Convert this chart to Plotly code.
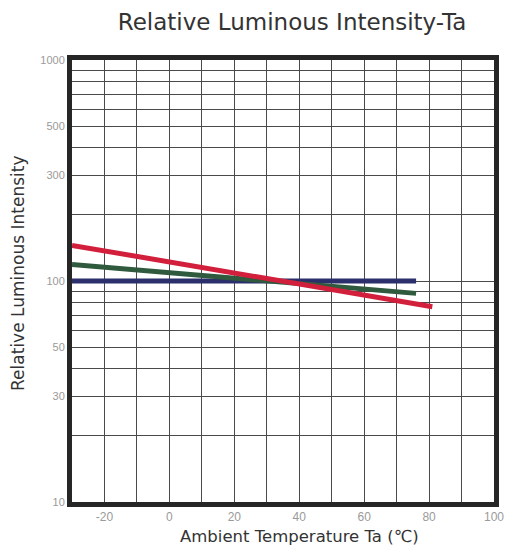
import plotly.graph_objects as go

# Data
temp_blue = [-30, 25, 76]
val_blue = [100, 100, 100]
temp_green = [-30, 25, 76]
val_green = [118.7, 102, 87.9]
temp_red = [-30, 25, 81]
val_red = [145, 106, 76.5]

y_tick_vals = [10, 30, 50, 100, 300, 500, 1000]
y_tick_text = ["10", "30", "50", "100", "300", "500", "1000"]
y_minor_vals = [20, 40, 60, 70, 80, 90, 200, 400, 600, 700, 800, 900]
x_tick_vals = [-20, 0, 20, 40, 60, 80, 100]
x_tick_text = ["-20", "0", "20", "40", "60", "80", "100"]

fig = go.Figure()
for xs, ys, col in [(temp_blue, val_blue, "#2b2f6b"),
                    (temp_green, val_green, "#2f5a3e"),
                    (temp_red, val_red, "#d21f3c")]:
    fig.add_trace(go.Scatter(x=xs, y=ys, mode="lines",
                             line=dict(color=col, width=5),
                             showlegend=False, hoverinfo="skip"))

font = "DejaVu Sans, Verdana, sans-serif"
tfont = "Liberation Sans, Arial, sans-serif"
fig.update_layout(
    width=516, height=552,
    margin=dict(l=72, r=16, t=60, b=50),
    paper_bgcolor="white", plot_bgcolor="white",
    title=dict(text="Relative Luminous Intensity-Ta", x=0.566, xanchor="center",
               y=0.961, yanchor="middle",
               font=dict(family=font, size=23, color="#333")),
    font=dict(family=font),
    annotations=[
        dict(text="Ambient Temperature Ta (℃)", xref="paper", yref="paper",
             x=0.54, y=0, xanchor="center", yanchor="top", yshift=-23,
             showarrow=False, font=dict(family=font, size=16.5, color="#333")),
        dict(text="Relative Luminous Intensity", xref="paper", yref="paper",
             x=0, y=0.516, xanchor="center", yanchor="middle", xshift=-54,
             textangle=-90, showarrow=False,
             font=dict(family=font, size=17, color="#333")),
    ],
)
fig.update_xaxes(
    range=[-30, 100], tickvals=x_tick_vals, ticktext=x_tick_text,
    showgrid=True, gridcolor="#4a4a4a", gridwidth=1,
    minor=dict(dtick=10, showgrid=True, gridcolor="#4a4a4a", gridwidth=1),
    showline=True, mirror=True, linecolor="#262626", linewidth=5,
    zeroline=False, ticks="",
    tickfont=dict(family=tfont, size=12, color="#9a9a9a"),
)
fig.update_yaxes(
    type="log", range=[1, 3], tickvals=y_tick_vals, ticktext=y_tick_text,
    showgrid=True, gridcolor="#4a4a4a", gridwidth=1,
    minor=dict(tickvals=y_minor_vals, showgrid=True, gridcolor="#4a4a4a", gridwidth=1),
    showline=True, mirror=True, linecolor="#262626", linewidth=5,
    zeroline=False, ticks="",
    tickfont=dict(family=tfont, size=11, color="#9a9a9a"),
)
fig.write_html("out.html")
